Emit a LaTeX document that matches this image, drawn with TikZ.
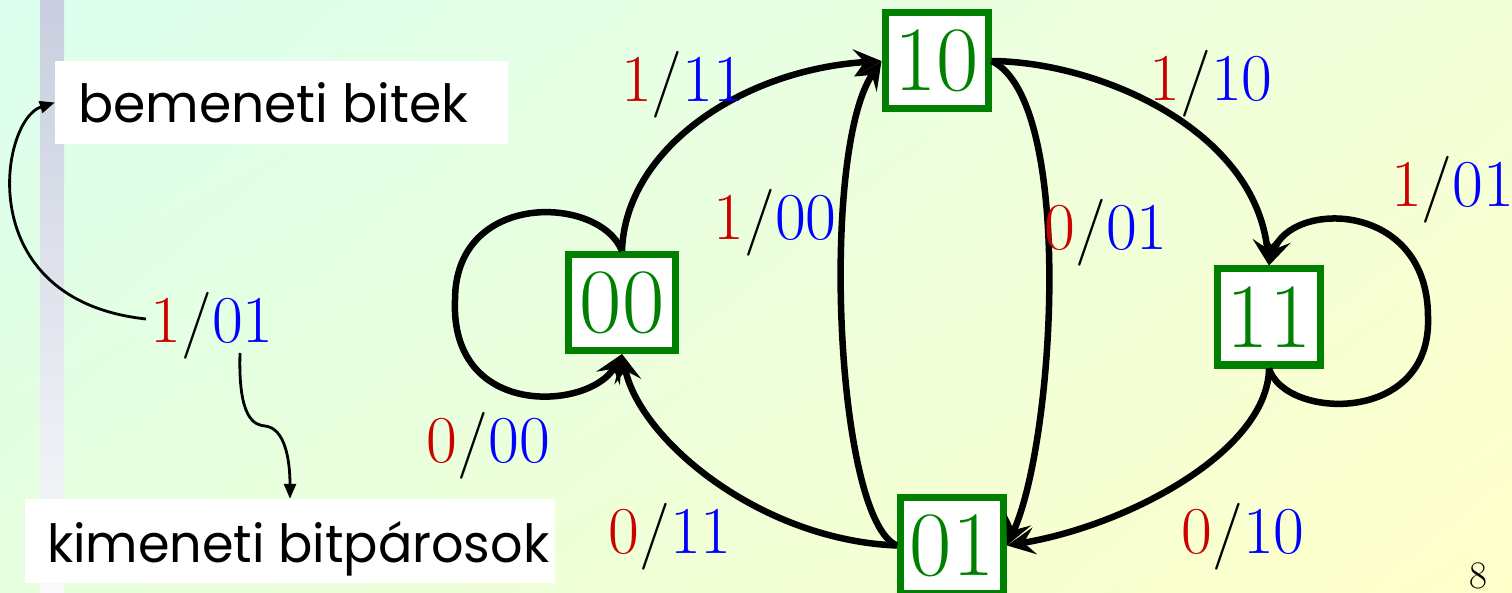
\documentclass[tikz,border=0pt]{standalone}
\usepackage{fontspec}
\usetikzlibrary{arrows.meta,shadings}
\newfontfamily\gothic{Poppins}

\definecolor{stgreen}{HTML}{008000}
\definecolor{inred}{HTML}{CC0000}
\definecolor{outblue}{HTML}{0000FF}
\definecolor{bgUL}{HTML}{DBFFEF}
\definecolor{bgUR}{HTML}{F3FFD8}
\definecolor{bgLL}{HTML}{E6FFDE}
\definecolor{bgLR}{HTML}{FFFFCA}
\definecolor{barTop}{HTML}{C8CEDE}
\definecolor{barBot}{HTML}{FAFAFC}

% input bit / output bit pair
\newcommand\io[2]{\textcolor{inred}{#1}/\textcolor{outblue}{#2}}

\begin{document}
\begin{tikzpicture}[x=1pt,y=-1pt,
  state/.style={draw=stgreen, line width=7pt, fill=white, text=stgreen,
    minimum width=103pt, minimum height=96pt, inner sep=0pt,
    font=\fontsize{92}{92}\selectfont},
  trans/.style={line width=6.5pt, -{Stealth[length=28pt,width=27pt,inset=11pt]}},
  hint/.style={line width=2.8pt, -{Triangle[length=15pt,width=12pt]}},
  iolabel/.style={anchor=base, inner sep=0pt, font=\fontsize{67}{67}\selectfont},
  notebox/.style={fill=white, inner sep=0pt},
  notetext/.style={anchor=base west, inner sep=0pt, font=\gothic}]

\useasboundingbox (0,0) rectangle (1512,593);

% background and side bar
\shade[upper left=bgUL, upper right=bgUR, lower left=bgLL, lower right=bgLR]
  (0,0) rectangle (1512,593);
\shade[top color=barTop, bottom color=barBot] (40,0) rectangle (64,593);

% notes
\node[notebox, minimum width=453pt, minimum height=83pt] (inbox) at (281.5,102.5) {};
\node[notetext] (intext) at (78,123) {\resizebox{390pt}{40pt}{bemeneti bitek}};
\node[notebox, minimum width=530pt, minimum height=84pt] (outbox) at (290,541) {};
\node[notetext] (outtext) at (47,562) {\resizebox{502pt}{40pt}{kimeneti bitp\smash{á}rosok}};

% sample label
\node[iolabel] (sample) at (212,343) {\io{1}{01}};
\coordinate (hintA) at (146,319);
\coordinate (hintB) at (240,353);
\draw[hint] (hintA) .. controls (-30,300) and (0,120) .. (inbox.west);
\draw[hint] (hintB) .. controls (238,420) and (255,425) .. (265,426)
  .. controls (285,428) and (290,460) .. (outbox.north);

% states
\node[state, minimum width=107pt] (s00) at (622,302.5) {00};
\node[state] (s10) at (936.5,61) {10};
\node[state] (s11) at (1269,317) {11};
\node[state] (s01) at (952,545.5) {01};

% transitions
\draw[trans] (s00.north) .. controls (600,195) and (455,190) .. (455,300)
  .. controls (450,420) and (590,410) .. (s00.south);
\draw[trans] (s00.north) .. controls (625,150) and (740,70) .. (s10.west);
\draw[trans] (s01.west) .. controls (835,520) and (820,150) .. (s10.west);
\draw[trans] (s10.east) .. controls (1075,100) and (1055,440) .. (s01.east);
\draw[trans] (s10.east) .. controls (1100,62) and (1255,130) .. (s11.north);
\draw[trans] (s11.south) .. controls (1285,420) and (1432,425) .. (1428,317)
  .. controls (1428,200) and (1290,200) .. (s11.north);
\draw[trans] (s11.south) .. controls (1268,450) and (1130,525) .. (s01.east);
\draw[trans] (s01.west) .. controls (760,540) and (640,440) .. (s00.south);

% transition labels
\node[iolabel] (l0010) at (682.5,102) {\io{1}{11}};
\node[iolabel] (l1011) at (1211,101) {\io{1}{10}};
\node[iolabel] (l0110) at (775,240) {\io{1}{00}};
\node[iolabel] (l1001) at (1106,250) {\io{0}{01}};
\node[iolabel] (l1111) at (1452.5,207) {\io{1}{01}};
\node[iolabel] (l0000) at (488.5,462) {\io{0}{00}};
\node[iolabel] (l0100) at (670,553) {\io{0}{11}};
\node[iolabel] (l1101) at (1243,553) {\io{0}{10}};

% page number
\node[anchor=base, inner sep=0pt, font=\fontsize{39}{39}\selectfont] (pageno) at (1478.5,588) {8};
\end{tikzpicture}
\end{document}
